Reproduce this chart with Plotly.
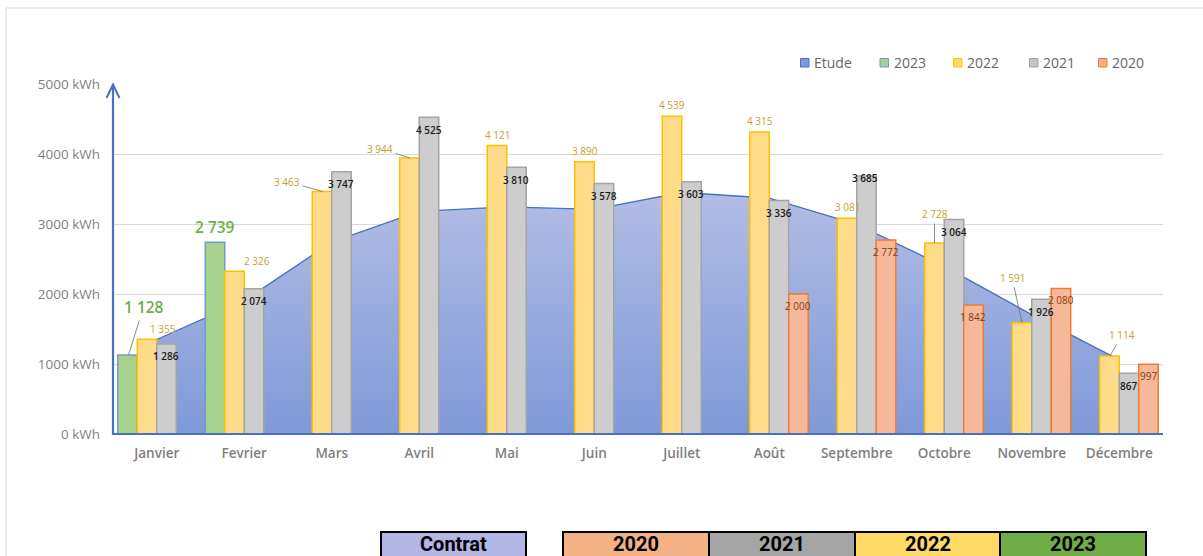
import plotly.graph_objects as go

# ---------------- data ----------------
months = ["Janvier", "Fevrier", "Mars", "Avril", "Mai", "Juin", "Juillet",
          "Août", "Septembre", "Octobre", "Novembre", "Décembre"]
etude = [1350, 1905, 2740, 3180, 3245, 3210, 3450, 3370, 2995, 2395, 1705, 1060]
v2023 = [1128, 2739, None, None, None, None, None, None, None, None, None, None]
v2022 = [1355, 2326, 3463, 3944, 4121, 3890, 4539, 4315, 3081, 2728, 1591, 1114]
v2021 = [1286, 2074, 3747, 4525, 3810, 3578, 3603, 3336, 3685, 3064, 1926, 867]
v2020 = [None, None, None, None, None, None, None, 2000, 2772, 1842, 2080, 997]
y_ticks = [0, 1000, 2000, 3000, 4000, 5000]
y_tick_text = ["0 kWh", "1000 kWh", "2000 kWh", "3000 kWh", "4000 kWh", "5000 kWh"]
legend_names = ["Etude", "2023", "2022", "2021", "2020"]
table_labels = ["Contrat", "2020", "2021", "2022", "2023"]

# ---------------- geometry / style ----------------
W, H = 1203, 556
L, R, T, B = 113, 40, 84, 122
PW, PH = W - L - R, H - T - B
BARGAP = 0.109
SLOT = PW / 12 * (1 - BARGAP) / 4


def px(x):
    return (x - L) / PW


def py(y):
    return (H - B - y) / PH


FONT = "Open Sans"
AXIS_BLUE = "#4472C4"

styles = {
    "2023": dict(fill="#A9D18E", line="#6D9BD1", lc="#70AD47", ls=15.5, lw=600, dy=15),
    "2022": dict(fill="#FFDC8A", line="#FFC000", lc="#C8A02A", ls=10, lw=400, dy=11),
    "2021": dict(fill="#CDCDCD", line="#A5A5A5", lc="#1A1A1A", ls=10, lw=600, dy=-12.5),
    "2020": dict(fill="#F6B89B", line="#ED7D31", lc="#843C0C", ls=10, lw=400, dy=-12),
}
series = [("2023", v2023), ("2022", v2022), ("2021", v2021), ("2020", v2020)]

label_adjust = {
    ("2022", "Janvier"): (15.5, 10),
    ("2022", "Fevrier"): (22, 10.5),
    ("2021", "Septembre"): (-1.5, -2),
}
leaders = {
    ("2023", "Janvier"): (1, 15, -48),
    ("2022", "Mars"): (1, -36, -10),
    ("2022", "Avril"): (0.5, -30, -9),
    ("2022", "Octobre"): (0, 0, -29),
    ("2022", "Novembre"): (0, -10, -45),
    ("2022", "Décembre"): (0.5, 12, -21),
}


def fmt(v):
    return f"{v:,}".replace(",", " ")


fig = go.Figure()

fig.add_trace(go.Scatter(
    x=months, y=etude, name="Etude", mode="lines", fill="tozeroy",
    line=dict(color=AXIS_BLUE, width=1.3),
    fillgradient=dict(type="vertical", colorscale=[[0, "#7F99D8"], [1, "#B2BDE5"]],
                      start=0, stop=3450),
    showlegend=False, hoverinfo="skip", zorder=0,
))

for name, vals in series:
    st = styles[name]
    fig.add_trace(go.Bar(
        x=months, y=vals, name=name,
        marker=dict(color=st["fill"], line=dict(color=st["line"], width=1.5)),
        showlegend=False, hoverinfo="skip", zorder=1,
    ))

annotations = []
for i, (name, vals) in enumerate(series):
    st = styles[name]
    off = (i - 1.5) * SLOT
    for m, v in zip(months, vals):
        if v is None:
            continue
        font = dict(family=FONT, size=st["ls"], color=st["lc"], weight=st["lw"])
        if (name, m) in leaders:
            hdx, ax, ay = leaders[(name, m)]
            annotations.append(dict(
                x=m, y=v, xref="x", yref="y", xshift=off + hdx, text=fmt(v), font=font,
                showarrow=True, arrowhead=0, arrowwidth=0.8, arrowcolor="#6F6F6F",
                ax=ax, ay=ay, standoff=0, startstandoff=1,
            ))
        else:
            dx, dy = label_adjust.get((name, m), (0, st["dy"]))
            annotations.append(dict(
                x=m, y=v, xref="x", yref="y", xshift=off + dx, yshift=dy, text=fmt(v),
                font=font, showarrow=False, xanchor="center", yanchor="middle",
            ))

shapes = []
# chart frame
shapes.append(dict(type="rect", xref="paper", yref="paper", x0=px(6), x1=px(1300),
                   y0=py(800), y1=py(8), line=dict(color="#D9D9D9", width=1), layer="below"))
# axis lines (drawn as shapes so they sit above the area)
shapes.append(dict(type="line", xref="paper", yref="paper", x0=px(112), x1=px(1163),
                   y0=py(434), y1=py(434), line=dict(color=AXIS_BLUE, width=2.2)))
shapes.append(dict(type="line", xref="paper", yref="paper", x0=px(113), x1=px(113),
                   y0=py(435), y1=py(85), line=dict(color=AXIS_BLUE, width=2.2)))
# y axis arrow head
shapes.append(dict(type="path", xref="paper", yref="paper",
                   path=f"M {px(106.5)},{py(98)} L {px(113)},{py(84.5)} L {px(119.5)},{py(98)}",
                   line=dict(color=AXIS_BLUE, width=2)))

# manual legend
leg_colors = [("#7F99D8", AXIS_BLUE), ("#A9D18E", "#6D9BD1"), ("#FFD966", "#FFC000"),
              ("#C4C4C4", "#A5A5A5"), ("#F4B183", "#ED7D31")]
leg_sq_x = [800.5, 880, 953.5, 1029.5, 1098.5]
for nm, (fc, lc), sx in zip(legend_names, leg_colors, leg_sq_x):
    shapes.append(dict(type="rect", xref="paper", yref="paper", x0=px(sx), x1=px(sx + 8.5),
                       y0=py(67), y1=py(58.5), fillcolor=fc, line=dict(color=lc, width=1)))
    annotations.append(dict(x=px(sx + 11.5), y=py(62.5), xref="paper", yref="paper",
                            text=nm, showarrow=False, xanchor="left", yanchor="middle",
                            font=dict(family=FONT, size=14, color="#666666")))

# table below the chart
table_boxes = [(381, 526, "#B4B6E6"), (563, 709, "#F4B183"), (709, 855, "#A5A5A5"),
               (855, 1000, "#FFD966"), (1000, 1146, "#70AD47")]
for lab, (x0, x1, c) in zip(table_labels, table_boxes):
    shapes.append(dict(type="rect", xref="paper", yref="paper", x0=px(x0), x1=px(x1),
                       y0=py(620), y1=py(532), fillcolor=c, line=dict(color="#000000", width=2)))
    annotations.append(dict(x=px((x0 + x1) / 2), y=py(544), xref="paper", yref="paper",
                            text=lab, showarrow=False, xanchor="center", yanchor="middle",
                            font=dict(family="Roboto", size=20, color="#000000", weight=700)))

fig.update_layout(
    width=W, height=H, autosize=False,
    margin=dict(l=L, r=R, t=T, b=B, pad=0),
    paper_bgcolor="white", plot_bgcolor="white",
    barmode="group", bargap=BARGAP, bargroupgap=0,
    showlegend=False,
    font=dict(family=FONT),
    xaxis=dict(type="category", showline=False, showgrid=False, ticks="", zeroline=False,
               ticklabelstandoff=9,
               tickfont=dict(family=FONT, size=13.5, color="#7F7F7F", weight=600)),
    yaxis=dict(range=[0, 5000], tickvals=y_ticks, ticktext=y_tick_text,
               showline=False, gridcolor="#D9D9D9", gridwidth=1, zeroline=False, ticks="",
               ticklabelstandoff=12,
               tickfont=dict(family=FONT, size=13.5, color="#7F7F7F")),
    annotations=annotations, shapes=shapes,
)

fig.write_html("out.html", config={"displayModeBar": False},
               post_script="document.body.style.margin='0';document.body.style.overflow='hidden';")
